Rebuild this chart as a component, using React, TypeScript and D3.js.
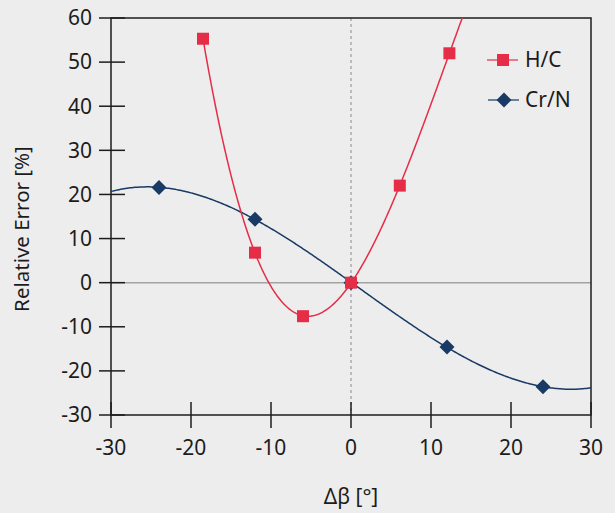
import React from "react";
import * as d3 from "d3";

const xTicks = [-30, -20, -10, 0, 10, 20, 30];
const yTicks = [-30, -20, -10, 0, 10, 20, 30, 40, 50, 60];

const hcX = [-18.5, -12, -6, 0, 6.1, 12.3];
const hcY = [55.3, 6.8, -7.6, 0, 22, 52];
const crX = [-24, -12, 0, 12, 24];
const crY = [21.6, 14.4, 0, -14.6, -23.6];

const RED = "#e52d47";
const NAVY = "#183a64";
const FONT = "'Noto Sans', 'Open Sans', sans-serif";

// least-squares polynomial trendline through the data points
function polyFit(xs: number[], ys: number[], order: number): number[] {
  const n = order + 1;
  const A: number[][] = Array.from({ length: n }, () => new Array(n + 1).fill(0));
  for (let k = 0; k < xs.length; k++) {
    for (let i = 0; i < n; i++) {
      for (let j = 0; j < n; j++) A[i][j] += Math.pow(xs[k], i + j);
      A[i][n] += ys[k] * Math.pow(xs[k], i);
    }
  }
  for (let c = 0; c < n; c++) {
    let p = c;
    for (let r = c + 1; r < n; r++) if (Math.abs(A[r][c]) > Math.abs(A[p][c])) p = r;
    [A[c], A[p]] = [A[p], A[c]];
    for (let r = 0; r < n; r++) {
      if (r === c) continue;
      const f = A[r][c] / A[c][c];
      for (let j = c; j <= n; j++) A[r][j] -= f * A[c][j];
    }
  }
  return A.map((row, i) => row[n] / A[i][i]);
}
const evalPoly = (c: number[], v: number) => c.reduce((s, a, i) => s + a * Math.pow(v, i), 0);

export default function App() {
  const W = 615, H = 513;
  const x = d3.scaleLinear().domain([-30, 30]).range([111, 591]);
  const y = d3.scaleLinear().domain([-30, 60]).range([415, 18]);
  const line = d3.line<[number, number]>().x(d => x(d[0])).y(d => y(d[1]));
  const hcC = polyFit(hcX, hcY, 4);
  const crC = polyFit(crX, crY, 3);
  const hcFit = line(d3.range(-18.5, 15.01, 0.1).map(v => [v, evalPoly(hcC, v)] as [number, number])) || "";
  const crFit = line(d3.range(-30, 30.01, 0.2).map(v => [v, evalPoly(crC, v)] as [number, number])) || "";
  const diamond = (cx: number, cy: number, r: number) => `M${cx},${cy - r}L${cx + r},${cy}L${cx},${cy + r}L${cx - r},${cy}Z`;
  const ink = "#1c1c1c";
  return (
    <svg width={W} height={H} style={{ position: "absolute", left: 0, top: 0, background: "#ededed" }}>
      <rect x={0} y={0} width={W} height={H} fill="#ededed" />
      <defs>
        <clipPath id="plot">
          <rect x={111} y={18} width={480} height={397} />
        </clipPath>
      </defs>
      <line x1={x(-30)} x2={x(30)} y1={y(0)} y2={y(0)} stroke="#a3a3a3" strokeWidth={1.5} />
      <line x1={x(0)} x2={x(0)} y1={y(60)} y2={y(-30)} stroke="#9a9a9a" strokeWidth={1.2} strokeDasharray="3,3" />
      <rect x={111} y={18} width={480} height={397} fill="none" stroke={ink} strokeWidth={1.5} />
      {yTicks.map(t => (
        <g key={"y" + t}>
          <line x1={99} x2={125} y1={y(t)} y2={y(t)} stroke={ink} strokeWidth={1.5} />
          <text x={92} y={y(t)} dy="0.35em" textAnchor="end" fontSize={21} fontFamily={FONT} fill={ink}>{t}</text>
        </g>
      ))}
      {xTicks.map(t => (
        <g key={"x" + t}>
          <line x1={x(t)} x2={x(t)} y1={402} y2={428} stroke={ink} strokeWidth={1.5} />
          <text x={x(t)} y={455} textAnchor="middle" fontSize={21} fontFamily={FONT} fill={ink}>{t}</text>
        </g>
      ))}
      <text x={351} y={504} textAnchor="middle" fontSize={21} fontFamily={FONT} fill={ink}>Δβ [°]</text>
      <text transform="translate(29,229) rotate(-90)" textAnchor="middle" fontSize={20.5} fontFamily={FONT} fill={ink}>Relative Error [%]</text>
      <g clipPath="url(#plot)">
        <path d={crFit} fill="none" stroke={NAVY} strokeWidth={1.5} />
        <path d={hcFit} fill="none" stroke={RED} strokeWidth={1.5} />
        {crX.map((v, i) => <path key={"c" + i} d={diamond(x(v), y(crY[i]), 7.5)} fill={NAVY} />)}
        {hcX.map((v, i) => <rect key={"h" + i} x={x(v) - 6} y={y(hcY[i]) - 6} width={12} height={12} fill={RED} />)}
      </g>
      <line x1={487} x2={518} y1={60} y2={60} stroke={RED} strokeWidth={1.5} strokeOpacity={0.8} />
      <rect x={497} y={54} width={12} height={12} fill={RED} />
      <text x={525} y={67} fontSize={21} fontFamily={FONT} fill={ink}>H/C</text>
      <line x1={488} x2={519} y1={100} y2={100} stroke={NAVY} strokeWidth={1.5} strokeOpacity={0.8} />
      <path d={diamond(504, 100, 7.5)} fill={NAVY} />
      <text x={525} y={107} fontSize={21} fontFamily={FONT} fill={ink}>Cr/N</text>
    </svg>
  );
}
